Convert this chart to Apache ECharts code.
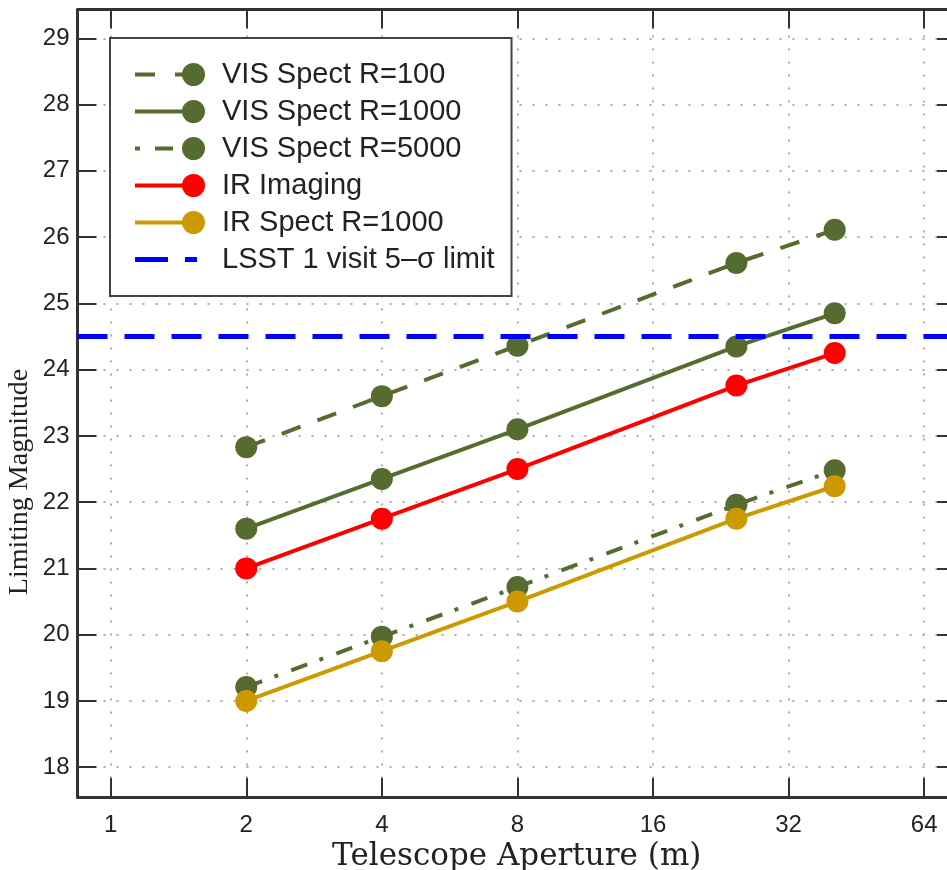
<!DOCTYPE html>
<html>
<head>
<meta charset="utf-8">
<script src="https://cdn.jsdelivr.net/npm/echarts@6/dist/echarts.min.js"></script>
<style>
  html, body { margin: 0; padding: 0; background: #fff; }
  #main { width: 947px; height: 870px; }
</style>
</head>
<body>
<div id="main"></div>
<script>
// telescope aperture (m) and limiting magnitudes
var apertures = [2, 4, 8, 24.5, 40.5];
var visR100 = [22.83, 23.6, 24.36, 25.61, 26.11];
var visR1000 = [21.6, 22.35, 23.1, 24.35, 24.85];
var visR5000 = [19.21, 19.97, 20.72, 21.96, 22.48];
var irImaging = [21.0, 21.75, 22.5, 23.76, 24.25];
var irSpect = [19.0, 19.75, 20.5, 21.75, 22.24];
var lsstLimit = 24.5;

function pairs(vals) {
  return apertures.map(function (a, i) { return [a, vals[i]]; });
}

var olive = "#556b2f";
var gold = "#cc9a00";

// legend icons: line sample with the marker at the right end
var circ = " M70 11.5 A11.5 11.5 0 1 1 47 11.5 A11.5 11.5 0 1 1 70 11.5 Z";
var pad = " M0 0 L0 0 Z M82 23 L82 23 Z";
var iconSolid = "path://M0 9.5 L58 9.5 L58 13.5 L0 13.5 Z" + circ + pad;
var iconDash = "path://M0 9.5 L20 9.5 L20 13.5 L0 13.5 Z M40 9.5 L58 9.5 L58 13.5 L40 13.5 Z" + circ + pad;
var iconDashDot = "path://M0 9.5 L5 9.5 L5 13.5 L0 13.5 Z M20 9.5 L38 9.5 L38 13.5 L20 13.5 Z" + circ + pad;
var iconLsst = "path://M0 9 L33 9 L33 14 L0 14 Z M50 9 L62 9 L62 14 L50 14 Z" + pad;

var chart = echarts.init(document.getElementById("main"));

var axisLine = { show: true, onZero: false, lineStyle: { color: "#333", width: 3 } };
var axisTick = { show: true, inside: true, length: 19, lineStyle: { color: "#333", width: 2 } };
var xExtent = { min: 0.844, max: 75.3 };
var yExtent = { min: 17.55, max: 29.435 };

function lineSeries(name, vals, color, type) {
  return {
    name: name,
    type: "line",
    data: pairs(vals),
    color: color,
    symbol: "circle",
    symbolSize: 22,
    lineStyle: { color: color, width: 4, type: type },
    itemStyle: { color: color, borderWidth: 0 },
  };
}

var option = {
  animation: false,
  textStyle: { fontFamily: "Liberation Sans" },
  grid: {
    left: 77.5,
    top: 9.5,
    width: 878.5,
    bottom: 73,
    containLabel: false,
    outerBoundsMode: "none",
  },
  legend: {
    orient: "vertical",
    left: 110,
    top: 38,
    padding: [22, 17, 22, 25],
    itemWidth: 82,
    itemHeight: 23,
    itemGap: 8,
    backgroundColor: "#fff",
    borderColor: "#444",
    borderWidth: 2,
    borderRadius: 0,
    selectedMode: false,
    itemStyle: { borderWidth: 0 },
    textStyle: { fontSize: 29, color: "#222", fontFamily: "Liberation Sans" },
    data: [
      { name: "VIS Spect R=100", icon: iconDash },
      { name: "VIS Spect R=1000", icon: iconSolid },
      { name: "VIS Spect R=5000", icon: iconDashDot },
      { name: "IR Imaging", icon: iconSolid },
      { name: "IR Spect R=1000", icon: iconSolid },
      { name: "LSST 1 visit 5\u2013\u03c3 limit", icon: iconLsst },
    ],
  },
  xAxis: [
    {
      type: "log",
      logBase: 2,
      min: xExtent.min,
      max: xExtent.max,
      name: "Telescope Aperture (m)",
      nameLocation: "middle",
      nameGap: 40,
      nameTextStyle: { fontFamily: "DejaVu Serif", fontSize: 31, color: "#222" },
      axisLine: axisLine,
      axisTick: axisTick,
      axisLabel: {
        fontSize: 24,
        color: "#222",
        margin: 16,
        showMinLabel: false,
        showMaxLabel: false,
        formatter: function (v) { return String(Math.round(v)); },
      },
      minorTick: { show: false },
      splitLine: { show: true, lineStyle: { color: "#aaa", width: 2, type: [2, 11] } },
    },
    {
      type: "log",
      logBase: 2,
      position: "top",
      min: xExtent.min,
      max: xExtent.max,
      axisLine: axisLine,
      axisTick: axisTick,
      axisLabel: { show: false },
      splitLine: { show: false },
    },
  ],
  yAxis: [
    {
      type: "value",
      min: yExtent.min,
      max: yExtent.max,
      splitNumber: 12,
      axisLine: axisLine,
      axisTick: axisTick,
      axisLabel: {
        fontSize: 24,
        color: "#222",
        margin: 8,
        showMinLabel: false,
        showMaxLabel: false,
      },
      splitLine: { show: true, lineStyle: { color: "#aaa", width: 2, type: [2, 11] } },
    },
    {
      type: "value",
      position: "right",
      min: yExtent.min,
      max: yExtent.max,
      splitNumber: 12,
      axisLine: axisLine,
      axisTick: axisTick,
      axisLabel: { show: false },
      splitLine: { show: false },
    },
  ],
  graphic: [
    {
      type: "text",
      x: 20,
      y: 482,
      rotation: Math.PI / 2,
      style: {
        text: "Limiting Magnitude",
        fontFamily: "Liberation Serif",
        fontSize: 28,
        fill: "#222",
        align: "center",
        verticalAlign: "middle",
      },
    },
  ],
  series: [
    lineSeries("VIS Spect R=100", visR100, olive, [20, 18]),
    lineSeries("VIS Spect R=1000", visR1000, olive, "solid"),
    lineSeries("VIS Spect R=5000", visR5000, olive, [17, 13, 4, 14]),
    lineSeries("IR Imaging", irImaging, "#ff0000", "solid"),
    lineSeries("IR Spect R=1000", irSpect, gold, "solid"),
    {
      name: "LSST 1 visit 5\u2013\u03c3 limit",
      type: "line",
      data: [],
      color: "#0000ff",
      itemStyle: { color: "#0000ff" },
      markLine: {
        silent: true,
        symbol: "none",
        label: { show: false },
        lineStyle: { color: "#0000ff", width: 5, type: [30, 17] },
        data: [{ yAxis: lsstLimit }],
      },
    },
  ],
};

chart.setOption(option);
</script>
</body>
</html>
